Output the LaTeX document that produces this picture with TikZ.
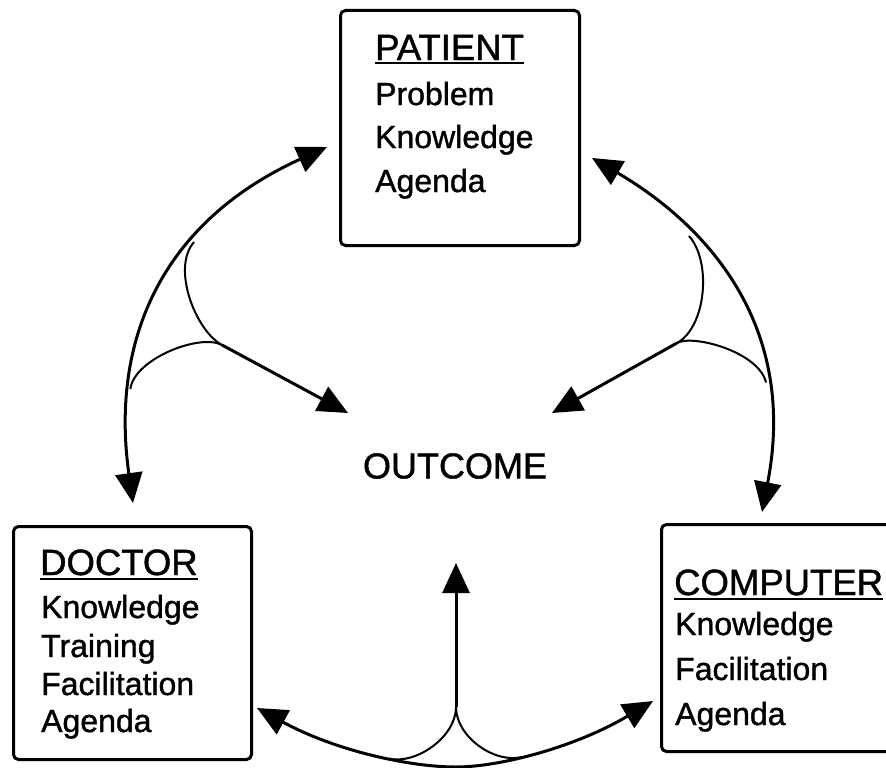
\documentclass[tikz,border=0pt]{standalone}
\usepackage{fontspec}
\setmainfont{Liberation Sans}[FakeBold=1.2]
\usetikzlibrary{arrows.meta}
\begin{document}
\begin{tikzpicture}[x=1pt,y=-1pt,
  box/.style={draw, line width=3pt, rounded corners=5pt, anchor=north west, inner sep=0pt},
  head/.style={font=\fontsize{36.5}{40}\selectfont, inner sep=0pt, anchor=base west},
  item/.style={font=\fontsize{32}{36}\selectfont, inner sep=0pt, anchor=base west},
  uline/.style={line width=2pt},
  mainarc/.style={line width=3pt, {Triangle[length=30pt,width=27pt]}-{Triangle[length=30pt,width=27pt]}},
  branch/.style={line width=2pt},
  shaft/.style={line width=3pt, -{Triangle[length=30pt,width=27pt]}}
]
\clip (0,0) rectangle (886,768);

% boxes
\node[box, minimum width=239pt, minimum height=235pt] (patient) at (339,9) {};
\node[box, minimum width=238pt, minimum height=233pt] (doctor) at (12,525) {};
\node[box, minimum width=260pt, minimum height=227pt] (computer) at (660,523) {};

% patient text
\node[head] (pth) at (375,60) {PATIENT};
\draw[uline] ([yshift=-3.5pt]pth.base west) -- ([yshift=-3.5pt]pth.base east);
\node[item] (pt1) at (375,105) {Problem};
\node[item] (pt2) at (375,148) {Knowledge};
\node[item] (pt3) at (375,192) {Agenda};

% doctor text
\node[head] (dch) at (40,575) {DOCTOR};
\draw[uline] ([yshift=-3.5pt]dch.base west) -- ([yshift=-3.5pt]dch.base east);
\node[item] (dc1) at (41,618) {Knowledge};
\node[item] (dc2) at (41,657) {Training};
\node[item] (dc3) at (41,695) {Facilitation};
\node[item] (dc4) at (41,732) {Agenda};

% computer text
\node[head] (cph) at (674,595) {COMPUTER};
\draw[uline] ([yshift=-3.5pt]cph.base west) -- ([yshift=-3.5pt]cph.base east);
\node[item] (cp1) at (675,635) {Knowledge};
\node[item] (cp2) at (675,680) {Facilitation};
\node[item] (cp3) at (675,725) {Agenda};

% outcome
\node[font=\fontsize{36}{40}\selectfont, inner sep=0pt] (outcome) at (455,466) {OUTCOME};

% ---- left connector (patient <-> doctor, to outcome)
\coordinate (ltop) at (327,147);
\coordinate (lbot) at (133,503);
\coordinate (lj) at (222,345);
\coordinate (lout) at (348,413);
\coordinate (lup) at (194,242);
\coordinate (llow) at (130.4,389);
\draw[mainarc] (lbot) .. controls (110,340) and (162,222) .. (ltop);
\draw[branch] (lup) .. controls (171,268.5) and (196,331) .. (lj);
\draw[branch] (lj) .. controls (200,333) and (134,359) .. (llow);
\draw[shaft] (lj) -- (lout);

% ---- right connector (patient <-> computer, to outcome)
\coordinate (rtop) at (592,158);
\coordinate (rbot) at (762,512);
\coordinate (rj) at (677,343);
\coordinate (rout) at (552,413);
\coordinate (rup) at (689,236);
\coordinate (rlow) at (766,382.5);
\draw[mainarc] (rtop) .. controls (695,218) and (800,316) .. (rbot);
\draw[branch] (rup) .. controls (712,262) and (706,327) .. (rj);
\draw[branch] (rj) .. controls (693,334) and (759,352) .. (rlow);
\draw[shaft] (rj) -- (rout);

% ---- bottom connector (doctor <-> computer, to outcome)
\coordinate (bleft) at (257,708);
\coordinate (bright) at (653,701);
\coordinate (bmid) at (456,767);
\coordinate (bj) at (456,707);
\coordinate (bout) at (456,563);
\coordinate (bl) at (389,758.6);
\coordinate (br) at (522,757);
\draw[mainarc] (bleft) .. controls (336,751) and (410,767) .. (bmid)
  .. controls (500,767) and (575.6,747) .. (bright);
\draw[branch] (bj) .. controls (456,737) and (416,764.8) .. (bl);
\draw[branch] (bj) .. controls (456,737) and (495,764) .. (br);
\draw[shaft] (bj) -- (bout);
\end{tikzpicture}
\end{document}
